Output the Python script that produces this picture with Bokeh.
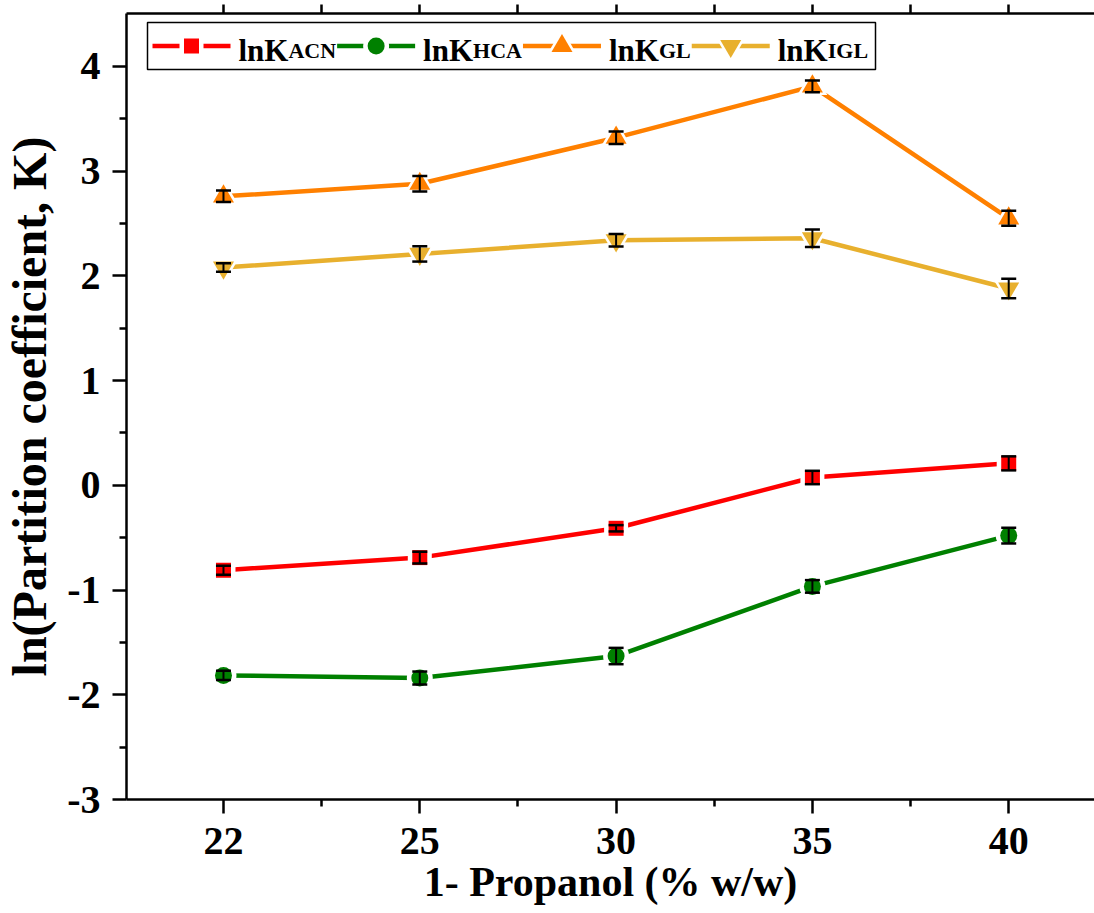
from bokeh.plotting import figure
from bokeh.models import (ColumnDataSource, Range1d, FixedTicker, LinearAxis,
                          Whisker, TeeHead)
from bokeh.core.properties import value
from bokeh.embed import file_html
from bokeh.resources import INLINE

# ---- data -------------------------------------------------------------
propanol = ["22", "25", "30", "35", "40"]          # 1-propanol, % w/w

ln_k_acn = [-0.81, -0.69, -0.41, 0.075, 0.21]
err_acn = [0.043, 0.056, 0.030, 0.064, 0.067]

ln_k_hca = [-1.815, -1.84, -1.63, -0.965, -0.48]
err_hca = [0.045, 0.062, 0.078, 0.060, 0.075]

ln_k_gl = [2.76, 2.88, 3.32, 3.81, 2.55]
err_gl = [0.055, 0.075, 0.060, 0.057, 0.072]

ln_k_igl = [2.08, 2.21, 2.34, 2.36, 1.88]
err_igl = [0.040, 0.073, 0.060, 0.083, 0.093]

series_tags = ["ACN", "HCA", "GL", "IGL"]
y_ticks = [-3, -2, -1, 0, 1, 2, 3, 4]

# ---- layout constants -------------------------------------------------
W, H = 1094, 913
FL, FT, FB, FR = 126, 13, 799, 1094       # frame edges in canvas pixels
X0, X1 = -0.494, 4.437
Y0, Y1 = -3.0, 4.506

SERIF = "Liberation Serif"


def to_x(px):
    return X0 + (px - FL) * (X1 - X0) / (FR - FL)


def to_y(py):
    return Y1 - (py - FT) * (Y1 - Y0) / (FB - FT)


p = figure(width=W, height=H, x_range=Range1d(X0, X1), y_range=Range1d(Y0, Y1),
           output_backend="svg", toolbar_location=None,
           x_axis_type=None, y_axis_type=None,
           min_border_left=FL, min_border_right=0, min_border_top=FT,
           min_border_bottom=H - FB)
p.outline_line_color = None
p.background_fill_color = "white"
p.border_fill_color = "white"

idx = list(range(len(propanol)))
x_minor = [i + 0.5 for i in range(-1, len(propanol))]


def style_axis(ax, tick_out, minor_out):
    ax.axis_line_width = 2.5
    ax.axis_line_color = "black"
    ax.major_tick_line_width = 2.5
    ax.minor_tick_line_width = 2.5
    ax.major_tick_in = 0
    ax.minor_tick_in = 0
    ax.major_tick_out = tick_out
    ax.minor_tick_out = minor_out
    ax.major_label_text_font = SERIF
    ax.major_label_text_font_style = "bold"
    ax.major_label_text_color = "black"
    ax.axis_label_text_font = SERIF
    ax.axis_label_text_font_style = "bold"
    ax.axis_label_text_color = "black"


xaxis = LinearAxis(ticker=FixedTicker(ticks=idx, minor_ticks=x_minor),
                   major_label_overrides={i: s for i, s in enumerate(propanol)},
                   axis_label="1- Propanol (% w/w)")
style_axis(xaxis, 14, 7)
xaxis.major_label_text_font_size = "40px"
xaxis.major_label_standoff = 14
xaxis.axis_label_text_font_size = "42px"
xaxis.axis_label_standoff = 2
p.add_layout(xaxis, "below")

y_minor = [t + 0.5 for t in y_ticks[:-1]]
yaxis = LinearAxis(ticker=FixedTicker(ticks=y_ticks, minor_ticks=y_minor),
                   major_label_overrides={t: str(t) for t in y_ticks},
                   axis_label="ln(Partition coefficient, K)")
style_axis(yaxis, 14, 7)
yaxis.major_label_text_font_size = "40px"
yaxis.major_label_standoff = 12
yaxis.axis_label_text_font_size = "48px"
yaxis.axis_label_standoff = 8
p.add_layout(yaxis, "left")

top = LinearAxis(ticker=FixedTicker(ticks=idx, minor_ticks=x_minor),
                 major_label_overrides={i: "" for i in idx})
style_axis(top, 9, 9)
top.major_label_text_font_size = "1px"
top.major_label_standoff = 0
p.add_layout(top, "above")

# ---- series -----------------------------------------------------------
series = [
    (ln_k_acn, err_acn, "#FF0000", "square", 15),
    (ln_k_hca, err_hca, "#008000", "circle", 17),
    (ln_k_gl, err_gl, "#FF8000", "triangle", 21),
    (ln_k_igl, err_igl, "#E8B02E", "inverted_triangle", 21),
]

for vals, errs, color, marker, size in series:
    src = ColumnDataSource(dict(x=idx, y=vals))
    p.line("x", "y", source=src, line_color=color, line_width=4.5)

for vals, errs, color, marker, size in series:
    src = ColumnDataSource(dict(x=idx, y=vals))
    # white halo so the connecting line stops short of each symbol
    p.scatter("x", "y", source=src, marker=marker, size=size + 9,
              fill_color="white", line_color=None)
    p.scatter("x", "y", source=src, marker=marker, size=size,
              fill_color=color, line_color=None)

for vals, errs, color, marker, size in series:
    src = ColumnDataSource(dict(
        x=idx,
        upper=[v + e for v, e in zip(vals, errs)],
        lower=[v - e for v, e in zip(vals, errs)],
    ))
    w = Whisker(source=src, base="x", upper="upper", lower="lower",
                line_color="black", line_width=2, level="overlay",
                upper_head=TeeHead(size=15, line_width=2.5, line_color="black"),
                lower_head=TeeHead(size=15, line_width=2.5, line_color="black"))
    p.add_layout(w)

# ---- legend -----------------------------------------------------------
# approximate advance widths (em/1000) of the bold serif face
ADV = {"l": 278, "n": 556, "K": 778, "A": 722, "C": 722, "N": 722,
       "H": 778, "G": 778, "L": 667, "I": 389}


def text_w(s, size):
    return sum(ADV[c] for c in s) * size / 1000.0


MAIN_SIZE, SUB_SIZE = 31, 22
box_l, box_r, box_t, box_b = 147, 875, 22, 69
row_mid, row_base = 45.5, 49.5

p.quad(left=[to_x(box_l)], right=[to_x(box_r)], top=[to_y(box_t)],
       bottom=[to_y(box_b)], fill_color="white", line_color="black",
       line_width=1.5)

cursor = 152
for (vals, errs, color, marker, size), tag in zip(series, series_tags):
    x_a, x_b, x_m = cursor, cursor + 78, cursor + 39
    p.line([to_x(x_a), to_x(x_b)], [to_y(row_mid)] * 2,
           line_color=color, line_width=4.5)
    p.scatter([to_x(x_m)], [to_y(row_mid)], marker=marker, size=size + 9,
              fill_color="white", line_color=None)
    p.scatter([to_x(x_m)], [to_y(row_mid)], marker=marker, size=size,
              fill_color=color, line_color=None)
    tx = x_b + 8
    p.text([to_x(tx)], [to_y(row_base)], text=["lnK"],
           text_font=value(SERIF), text_font_style="bold",
           text_font_size=f"{MAIN_SIZE}px", text_baseline="alphabetic",
           text_align="left", text_color="black")
    sx = tx + text_w("lnK", MAIN_SIZE)
    p.text([to_x(sx)], [to_y(row_base)], text=[tag],
           text_font=value(SERIF), text_font_style="bold",
           text_font_size=f"{SUB_SIZE}px", text_baseline="alphabetic",
           text_align="left", text_color="black")
    cursor = sx + text_w(tag, SUB_SIZE) + 1

open("out.html", "w").write(file_html(p, INLINE))
